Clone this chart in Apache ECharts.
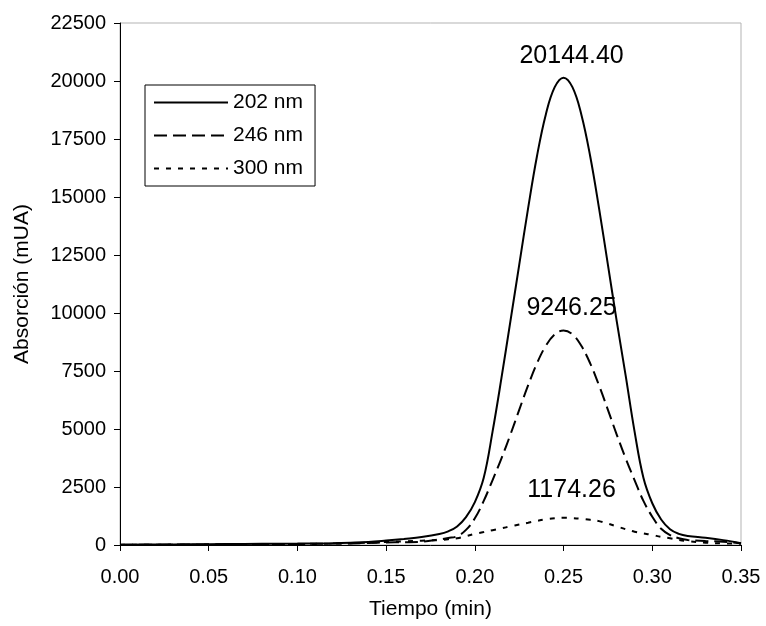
<!DOCTYPE html>
<html>
<head>
<meta charset="utf-8">
<script src="https://cdn.jsdelivr.net/npm/echarts@6/dist/echarts.min.js"></script>
<style>
  html, body { margin: 0; padding: 0; background: #fff; }
  #chart { width: 766px; height: 626px; }
</style>
</head>
<body>
<div id="chart"></div>
<script>
// tiempo (min)
const tiempos = [0, 0.02, 0.04, 0.06, 0.08, 0.10, 0.12, 0.13, 0.14, 0.15, 0.16, 0.17, 0.18, 0.185,
  0.19, 0.195, 0.20, 0.205, 0.21, 0.215, 0.22, 0.225, 0.23, 0.235, 0.24, 0.245, 0.25,
  0.255, 0.26, 0.265, 0.27, 0.275, 0.28, 0.285, 0.29, 0.295, 0.30, 0.305, 0.31, 0.315,
  0.32, 0.33, 0.34, 0.35];
// absorcion (mUA) por longitud de onda
const abs202 = [10, 20, 30, 40, 50, 60, 80, 100, 130, 190, 260, 340, 470, 590,
  800, 1200, 1850, 2900, 4900, 7200, 9630, 12075, 14510, 16757, 18560, 19735, 20144.40,
  19735, 18560, 16757, 14510, 12075, 9630, 7300, 4900, 2900, 1800, 1100, 680, 480,
  390, 310, 210, 80];
const abs246 = [10, 15, 20, 30, 40, 45, 60, 70, 90, 110, 120, 140, 240, 300,
  380, 650, 1150, 1900, 2800, 3735, 4750, 5825, 6876, 7830, 8586, 9077, 9246.25,
  9077, 8586, 7830, 6876, 5825, 4750, 3735, 2800, 1900, 1220, 700, 430, 290,
  215, 170, 140, 70];
const abs300 = [5, 10, 15, 20, 30, 40, 60, 80, 100, 130, 160, 185, 215, 250,
  290, 380, 480, 560, 640, 720, 800, 880, 960, 1040, 1110, 1155, 1174.26,
  1160, 1130, 1085, 1030, 920, 800, 680, 575, 500, 430, 350, 290, 220,
  170, 100, 70, 55];
const nombres = ['202 nm', '246 nm', '300 nm'];
const picoT = 0.25;
const picos = [20144.40, 9246.25, 1174.26];

const yTicks = [0, 2500, 5000, 7500, 10000, 12500, 15000, 17500, 20000, 22500];

const chart = echarts.init(document.getElementById('chart'));
const fuente = 'Liberation Sans, Arial, sans-serif';
const series = [abs202, abs246, abs300];
const tipos = ['solid', [13, 6], [5, 7]];
const distancias = [9, 9, 15];

const option = {
  animation: false,
  backgroundColor: '#fff',
  textStyle: { fontFamily: fuente },
  grid: {
    left: 120, right: 25, top: 23, bottom: 81,
    outerBoundsMode: 'none',
    show: true, borderColor: '#b3b3b3', borderWidth: 1
  },
  legend: {
    orient: 'vertical',
    left: 145, top: 85,
    padding: [7, 12, 7, 8],
    borderColor: '#000', borderWidth: 1,
    itemWidth: 74, itemHeight: 21, itemGap: 12,
    itemStyle: { opacity: 0 },
    textStyle: { fontSize: 21, color: '#000', fontFamily: fuente },
    data: nombres
  },
  xAxis: {
    type: 'value',
    min: 0, max: 0.35, interval: 0.05,
    name: 'Tiempo (min)',
    nameLocation: 'middle', nameGap: 54,
    nameTextStyle: { fontSize: 21, color: '#000' },
    axisLine: { lineStyle: { color: '#000', width: 1 } },
    axisTick: { show: true, length: 6, lineStyle: { color: '#000' } },
    axisLabel: { fontSize: 20, color: '#000', margin: 22, formatter: v => v.toFixed(2) },
    splitLine: { show: false }
  },
  yAxis: {
    type: 'value',
    min: yTicks[0], max: yTicks[yTicks.length - 1], interval: 2500,
    name: 'Absorción (mUA)',
    nameLocation: 'middle', nameGap: 87,
    nameTextStyle: { fontSize: 21, color: '#000' },
    axisLine: { show: true, lineStyle: { color: '#000', width: 1 } },
    axisTick: { show: true, length: 6, lineStyle: { color: '#000' } },
    axisLabel: { fontSize: 20, color: '#000', margin: 14, formatter: v => String(v) },
    splitLine: { show: false }
  },
  series: series.map((vals, i) => ({
    name: nombres[i],
    type: 'line',
    smooth: 0.4,
    showSymbol: false,
    symbol: 'none',
    color: '#000',
    lineStyle: { color: '#000', width: 2, type: tipos[i] },
    data: tiempos.map((t, j) => [t, vals[j]]),
    markPoint: {
      symbol: 'circle',
      symbolSize: 1,
      itemStyle: { color: 'rgba(0,0,0,0)' },
      label: {
        show: true,
        position: 'top',
        distance: distancias[i],
        offset: [8, 0],
        fontSize: 25,
        color: '#000',
        fontFamily: fuente,
        formatter: picos[i].toFixed(2)
      },
      data: [{ coord: [picoT, picos[i]] }]
    }
  }))
};
chart.setOption(option);
</script>
</body>
</html>
